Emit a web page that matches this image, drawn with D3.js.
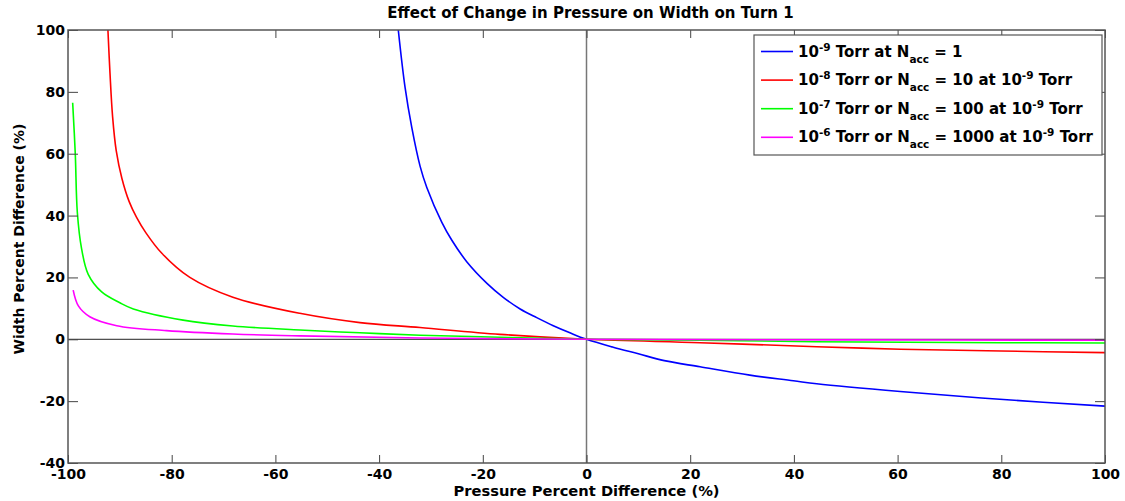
<!DOCTYPE html>
<html lang="en">
  <head>
    <meta charset="UTF-8">
    <title>Effect of Change in Pressure on Width on Turn 1</title>
    <style>
      body { margin: 0; background: white; }
      text { font-family: "DejaVu Sans", sans-serif; font-weight: bold; fill: black; }
      .tick text { font-size: 14px; }
      .tick line { stroke: #444; }
      .curve { fill: none; stroke-width: 1.6; }
    </style>
    <script src="https://d3js.org/d3.v7.min.js"></script>
  </head>
  <body>
    <script>
      // values (pressure % diff, width % diff)
      const blueX = [-36.3, -35.0, -33.7, -32.1, -30.8, -27.9, -26.0, -23.1, -19.2, -16.0, -12.8, -9.6, -6.4, -3.2, 0, 5, 10, 15, 21.9, 31.5, 39.9, 44.4, 60.5, 79.7, 100];
      const blueY = [100, 81.5, 68.5, 56.0, 49.1, 37.8, 32.1, 25.1, 18.1, 13.5, 9.8, 7.0, 4.4, 2.1, 0, -2.5, -4.7, -6.9, -8.9, -11.6, -13.4, -14.4, -16.9, -19.4, -21.6];

      const redX = [-92.3, -91.9, -91.4, -90.7, -89.6, -88.2, -86.8, -85.0, -81.9, -76.5, -68.2, -55.3, -43.7, -32.1, -16.7, 0, 21.9, 44.4, 60.5, 80, 100];
      const redY = [100, 86.0, 72.0, 61.0, 52.0, 44.5, 39.5, 34.5, 27.8, 20.0, 13.6, 8.4, 5.4, 3.8, 1.6, 0, -1.1, -2.4, -3.2, -3.8, -4.3];

      const greenX = [-99.1, -98.6, -98.2, -97.4, -96.1, -93.5, -90.0, -87.4, -77.8, -68.2, -55.3, -43.7, -32.1, -14.8, 0, 21.9, 44, 80, 100];
      const greenY = [76.5, 60.1, 41.0, 29.5, 21.0, 15.3, 11.8, 9.8, 6.2, 4.3, 3.0, 2.1, 1.3, 0.6, 0, -0.3, -0.8, -1.1, -1.2];

      const magentaX = [-99.0, -98.0, -95.8, -90.6, -81.0, -68.2, -55.3, -32.1, 0, 50, 100];
      const magentaY = [15.9, 10.8, 7.3, 4.4, 2.8, 1.7, 1.1, 0.4, 0, -0.2, -0.3];

      const seriesColors = ["#0000ff", "#ff0000", "#00ff00", "#ff00ff"];
      const legendLabels = [
        "10^{-9} Torr at N_{acc} = 1",
        "10^{-8} Torr or N_{acc} = 10 at 10^{-9} Torr",
        "10^{-7} Torr or N_{acc} = 100 at 10^{-9} Torr",
        "10^{-6} Torr or N_{acc} = 1000 at 10^{-9} Torr"
      ];
      const xTicks = [-100, -80, -60, -40, -20, 0, 20, 40, 60, 80, 100];
      const yTicks = [-40, -20, 0, 20, 40, 60, 80, 100];

      const W = 1125, H = 501;
      const margin = { top: 30, right: 20, bottom: 38, left: 68 };
      const width = W - margin.left - margin.right;
      const height = H - margin.top - margin.bottom;

      const svg = d3.select("body").append("svg")
        .attr("width", W)
        .attr("height", H);

      const g = svg.append("g")
        .attr("transform", `translate(${margin.left},${margin.top})`);

      const x = d3.scaleLinear().domain([-100, 100]).range([0, width]);
      const y = d3.scaleLinear().domain([-40, 100]).range([height, 0]);

      svg.append("defs").append("clipPath").attr("id", "plot")
        .append("rect").attr("width", width).attr("height", height);

      // zero lines
      g.append("line")
        .attr("x1", x(0)).attr("x2", x(0))
        .attr("y1", 0).attr("y2", height)
        .attr("stroke", "#777").attr("stroke-width", 1.5);
      g.append("line")
        .attr("x1", 0).attr("x2", width)
        .attr("y1", y(0)).attr("y2", y(0))
        .attr("stroke", "#222").attr("stroke-width", 1);

      const series = [
        [blueX, blueY], [redX, redY], [greenX, greenY], [magentaX, magentaY]
      ];

      const line = d3.line()
        .x(d => x(d[0]))
        .y(d => y(d[1]))
        .curve(d3.curveCatmullRom.alpha(0.5));

      g.append("g").attr("clip-path", "url(#plot)")
        .selectAll("path")
        .data(series)
        .enter()
        .append("path")
        .attr("class", "curve")
        .attr("stroke", (d, i) => seriesColors[i])
        .attr("d", d => line(d[0].map((v, i) => [v, d[1][i]])));

      // axes with inward ticks on all four sides
      const fmt = d => String(d);
      g.append("g")
        .attr("transform", `translate(0,${height})`)
        .call(d3.axisBottom(x).tickValues(xTicks).tickFormat(fmt).tickSizeInner(-8).tickSizeOuter(0).tickPadding(6))
        .call(a => a.select(".domain").remove());
      g.append("g")
        .call(d3.axisTop(x).tickValues(xTicks).tickFormat("").tickSizeInner(-8).tickSizeOuter(0))
        .call(a => a.select(".domain").remove());
      g.append("g")
        .call(d3.axisLeft(y).tickValues(yTicks).tickFormat(fmt).tickSizeInner(-10).tickSizeOuter(0).tickPadding(3))
        .call(a => a.select(".domain").remove());
      g.append("g")
        .attr("transform", `translate(${width},0)`)
        .call(d3.axisRight(y).tickValues(yTicks).tickFormat("").tickSizeInner(-10).tickSizeOuter(0))
        .call(a => a.select(".domain").remove());
      g.selectAll(".tick text").attr("fill", "black");

      g.append("rect")
        .attr("width", width).attr("height", height)
        .attr("fill", "none").attr("stroke", "#555").attr("stroke-width", 1.5);

      svg.append("text")
        .attr("x", margin.left + x(0) + 4).attr("y", 18)
        .attr("text-anchor", "middle")
        .style("font-size", "15px")
        .text("Effect of Change in Pressure on Width on Turn 1");

      svg.append("text")
        .attr("x", margin.left + x(0)).attr("y", 496)
        .attr("text-anchor", "middle")
        .style("font-size", "14.7px")
        .text("Pressure Percent Difference (%)");

      svg.append("text")
        .attr("transform", "translate(24,239) rotate(-90)")
        .attr("text-anchor", "middle")
        .style("font-size", "14px")
        .text("Width Percent Difference (%)");

      // legend
      const legend = svg.append("g").attr("transform", "translate(754,35)");
      legend.append("rect")
        .attr("width", 348).attr("height", 120)
        .attr("fill", "white").attr("stroke", "#555").attr("stroke-width", 1.2);

      legendLabels.forEach((lab, i) => {
        const ly = 16.5 + i * 28.6;
        legend.append("line")
          .attr("x1", 7).attr("x2", 39)
          .attr("y1", ly).attr("y2", ly)
          .attr("stroke", seriesColors[i]).attr("stroke-width", 1.6);

        const t = legend.append("text")
          .attr("x", 44).attr("y", ly + 5)
          .style("font-size", "15px");
        // split into plain / ^{sup} / _{sub} parts
        const parts = lab.split(/(\^\{[^}]*\}|_\{[^}]*\})/).filter(s => s.length);
        let shift = 0;
        parts.forEach(p => {
          let dy = -shift, size = "15px";
          let txt = p;
          if (p.startsWith("^{")) { txt = p.slice(2, -1); shift = -6; size = "10.5px"; }
          else if (p.startsWith("_{")) { txt = p.slice(2, -1); shift = 6; size = "10.5px"; }
          else { shift = 0; }
          dy += shift;
          t.append("tspan")
            .attr("dy", dy)
            .style("font-size", size)
            .text(txt);
        });
      });
    </script>
  </body>
</html>
